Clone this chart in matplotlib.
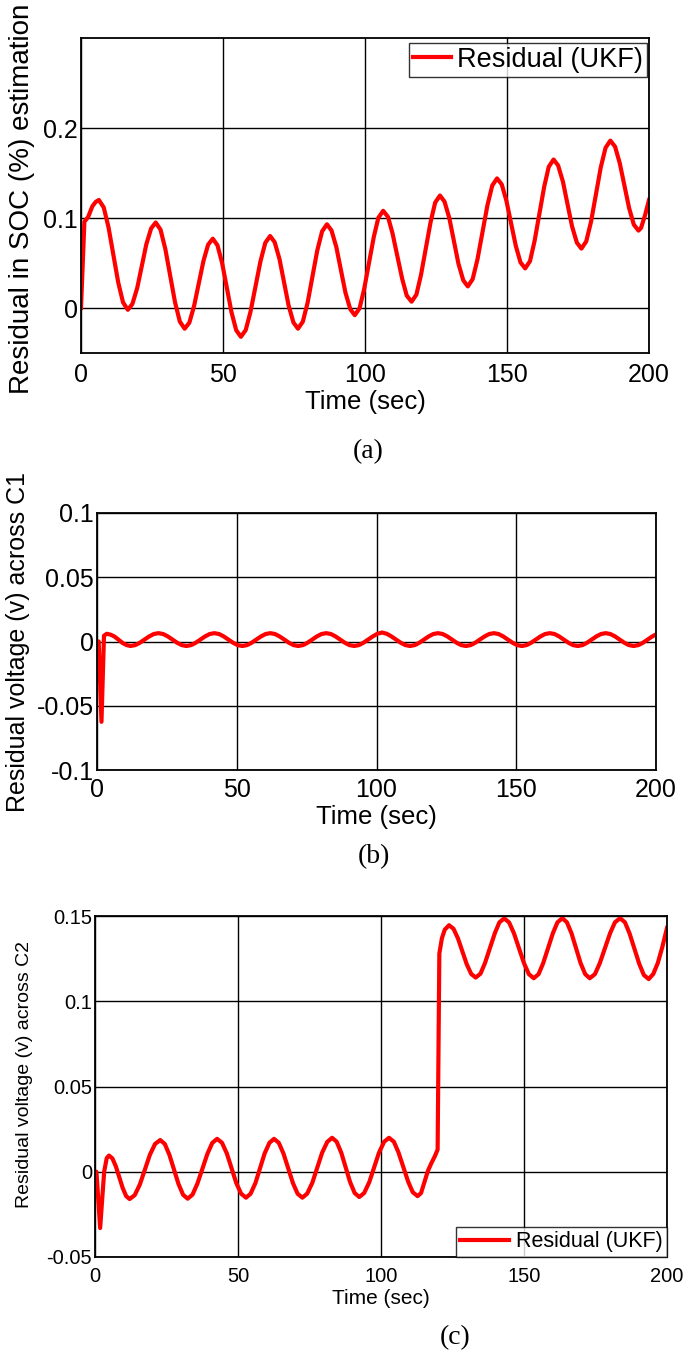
import matplotlib
matplotlib.use("Agg")
import matplotlib.pyplot as plt

plt.rcParams['font.family'] = ['Liberation Sans', 'DejaVu Sans']
plt.rcParams['axes.unicode_minus'] = False

# (a) residual in SOC estimation
t_a = [0, 1.2, 2.5, 4, 5.2, 6.3,
       8.0, 9.7, 11.4, 13.1, 14.8, 16.5,
       18.1, 19.8, 21.4, 23.0, 24.7, 26.3,
       28.0, 29.7, 31.4, 33.1, 34.8, 36.5,
       38.15, 39.8, 41.45, 43.1, 44.75, 46.4,
       48.05, 49.7, 51.35, 53.0, 54.65, 56.3,
       58.0, 59.7, 61.45, 63.2, 64.9, 66.6,
       68.2, 69.9, 71.5, 73.1, 74.8, 76.4,
       78.1, 79.8, 81.5, 83.2, 84.9, 86.6,
       88.2, 89.9, 91.5, 93.1, 94.8, 96.4,
       98.1, 99.7, 101.4, 103.1, 104.7, 106.4,
       108.1, 109.7, 111.4, 113.1, 114.7, 116.4,
       118.1, 119.7, 121.4, 123.1, 124.7, 126.4,
       128.0, 129.7, 131.3, 132.9, 134.6, 136.2,
       137.9, 139.6, 141.35, 143.1, 144.8, 146.5,
       148.15, 149.8, 151.45, 153.1, 154.75, 156.4,
       158.1, 159.7, 161.4, 163.1, 164.7, 166.4,
       168.0, 169.7, 171.3, 172.9, 174.6, 176.2,
       177.9, 179.6, 181.3, 183.0, 184.7, 186.4,
       188.05, 189.7, 191.35, 193.0, 194.65, 196.3,
       197.2, 198.6, 200]
soc_a = [0, 0.096, 0.101, 0.113, 0.118, 0.120,
         0.1118, 0.0895, 0.059, 0.0285, 0.0062, -0.002,
         0.0045, 0.0223, 0.0465, 0.0708, 0.0885, 0.095,
         0.0871, 0.0655, 0.036, 0.0065, -0.0151, -0.023,
         -0.0163, 0.002, 0.027, 0.052, 0.0703, 0.077,
         0.0697, 0.0498, 0.0225, -0.0048, -0.0247, -0.032,
         -0.0245, -0.004, 0.024, 0.052, 0.0725, 0.080,
         0.0731, 0.0543, 0.0285, 0.0028, -0.0161, -0.023,
         -0.0152, 0.006, 0.035, 0.064, 0.0852, 0.093,
         0.0862, 0.0678, 0.0425, 0.0173, -0.0012, -0.008,
         -0.0002, 0.021, 0.050, 0.079, 0.1002, 0.108,
         0.1012, 0.0828, 0.0575, 0.0323, 0.0138, 0.007,
         0.0149, 0.0365, 0.066, 0.0955, 0.1171, 0.125,
         0.1182, 0.0998, 0.0745, 0.0493, 0.0308, 0.024,
         0.032, 0.054, 0.084, 0.114, 0.136, 0.144,
         0.1373, 0.119, 0.094, 0.069, 0.0507, 0.044,
         0.0521, 0.0743, 0.1045, 0.1348, 0.1569, 0.165,
         0.1584, 0.1403, 0.1155, 0.0908, 0.0726, 0.066,
         0.074, 0.096, 0.126, 0.156, 0.178, 0.186,
         0.1793, 0.161, 0.136, 0.111, 0.0927, 0.086,
         0.089, 0.103, 0.120]

# (b) residual voltage across C1
t_b = [0, 0.6, 1.6, 2.5, 3.5, 4.9, 6.3, 7.75, 9.2, 10.6, 12,
       13.7, 15.3, 17, 18.7, 20.3, 22, 23.7, 25.3, 27, 28.7, 30.3, 32,
       33.7, 35.3, 37, 38.7, 40.3, 42, 43.7, 45.3, 47, 48.7, 50.3, 52,
       53.7, 55.3, 57, 58.7, 60.3, 62, 63.7, 65.3, 67, 68.7, 70.3, 72,
       73.7, 75.3, 77, 78.7, 80.3, 82, 83.7, 85.3, 87, 88.7, 90.3, 92,
       93.7, 95.3, 97, 98.7, 100.3, 102, 103.7, 105.3, 107, 108.7, 110.3, 112,
       113.7, 115.3, 117, 118.7, 120.3, 122, 123.7, 125.3, 127, 128.7, 130.3, 132,
       133.7, 135.3, 137, 138.7, 140.3, 142, 143.7, 145.3, 147, 148.7, 150.3, 152,
       153.7, 155.3, 157, 158.7, 160.3, 162, 163.7, 165.3, 167, 168.7, 170.3, 172,
       173.7, 175.3, 177, 178.7, 180.3, 182, 183.7, 185.3, 187, 188.7, 190.3, 192,
       193.7, 195.3, 197, 198.7, 200]
vc1_b = [0, 0, -0.0625, 0.0045, 0.006, 0.0053, 0.0038, 0.0013, -0.0012, -0.0028, -0.0035,
         -0.0028, -0.001, 0.0015, 0.004, 0.0058, 0.0065, 0.0058, 0.004, 0.0015, -0.001, -0.0028, -0.0035,
         -0.0028, -0.001, 0.0015, 0.004, 0.0058, 0.0065, 0.0058, 0.004, 0.0015, -0.001, -0.0028, -0.0035,
         -0.0028, -0.001, 0.0015, 0.004, 0.0058, 0.0065, 0.0058, 0.004, 0.0015, -0.001, -0.0028, -0.0035,
         -0.0028, -0.001, 0.0015, 0.004, 0.0058, 0.0065, 0.0058, 0.004, 0.0015, -0.001, -0.0028, -0.0035,
         -0.0028, -0.001, 0.0015, 0.004, 0.006, 0.007, 0.006, 0.004, 0.0015, -0.001, -0.0028, -0.0035,
         -0.0028, -0.001, 0.0015, 0.004, 0.0058, 0.0065, 0.0058, 0.004, 0.0015, -0.001, -0.0028, -0.0035,
         -0.0028, -0.001, 0.0015, 0.004, 0.0058, 0.0065, 0.0058, 0.004, 0.0015, -0.001, -0.0028, -0.0035,
         -0.0028, -0.001, 0.0015, 0.004, 0.0058, 0.0065, 0.0058, 0.004, 0.0015, -0.001, -0.0028, -0.0035,
         -0.0028, -0.001, 0.0015, 0.004, 0.0058, 0.0065, 0.0058, 0.004, 0.0015, -0.001, -0.0028, -0.0035,
         -0.0028, -0.001, 0.0015, 0.004, 0.0055]

# (c) residual voltage across C2
t_c = [0, 0.5, 1.8, 3.2, 4.1, 4.9,
       6.1, 7.3, 8.5, 9.7, 10.9, 12.1,
       13.9, 15.7, 17.45, 19.2, 21.0, 22.8,
       24.4, 26.0, 27.6, 29.2, 30.8, 32.4,
       34.1, 35.8, 37.55, 39.3, 41.0, 42.7,
       44.4, 46.1, 47.75, 49.4, 51.1, 52.8,
       54.4, 56.1, 57.7, 59.3, 61.0, 62.6,
       64.25, 65.9, 67.55, 69.2, 70.85, 72.5,
       74.2, 76.0, 77.7, 79.4, 81.2, 82.9,
       84.5, 86.1, 87.65, 89.2, 90.8, 92.4,
       94.1, 95.9, 97.6, 99.3, 101.1, 102.8,
       104.5, 106.1, 107.8, 109.5, 111.1, 112.8,
       114.0, 115.2, 116.4, 117.6, 118.8, 119.8, 120.4, 121.3, 122.3, 123.8,
       125.35, 126.9, 128.45, 130.0, 131.55, 133.1,
       134.8, 136.4, 138.1, 139.8, 141.4, 143.1,
       144.8, 146.5, 148.25, 150.0, 151.7, 153.4,
       155.1, 156.7, 158.4, 160.1, 161.7, 163.4,
       165.0, 166.6, 168.2, 169.8, 171.4, 173.0,
       174.8, 176.5, 178.3, 180.1, 181.8, 183.6,
       185.3, 186.9, 188.6, 190.3, 191.9, 193.6,
       195.2, 196.8, 198.4, 200]
vc2_c = [0, 0, -0.033, 0.0, 0.008, 0.0095,
         0.0078, 0.0031, -0.0033, -0.0096, -0.0143, -0.016,
         -0.0137, -0.0074, 0.0013, 0.010, 0.0163, 0.0186,
         0.0163, 0.010, 0.0014, -0.0072, -0.0135, -0.0158,
         -0.0134, -0.0070, 0.0018, 0.0105, 0.0169, 0.0193,
         0.0170, 0.0107, 0.0021, -0.0066, -0.0129, -0.0152,
         -0.0129, -0.0066, 0.0021, 0.0107, 0.0170, 0.0193,
         0.0170, 0.0107, 0.0021, -0.0066, -0.0129, -0.0152,
         -0.0128, -0.0064, 0.0024, 0.0111, 0.0175, 0.0199,
         0.0176, 0.0112, 0.0026, -0.0061, -0.0125, -0.0148,
         -0.0125, -0.0061, 0.0026, 0.0112, 0.0176, 0.0199,
         0.0176, 0.0114, 0.0028, -0.0058, -0.0120, -0.0143,
         -0.0125, -0.006, 0.0005, 0.005, 0.009, 0.013, 0.128, 0.137, 0.142, 0.1446,
         0.1425, 0.1369, 0.1293, 0.1216, 0.1160, 0.1139,
         0.1162, 0.1226, 0.1313, 0.1399, 0.1463, 0.1486,
         0.1462, 0.1398, 0.1311, 0.1223, 0.1159, 0.1135,
         0.1159, 0.1223, 0.1311, 0.1399, 0.1463, 0.1487,
         0.1463, 0.1399, 0.1311, 0.1223, 0.1159, 0.1135,
         0.1159, 0.1223, 0.1311, 0.1399, 0.1463, 0.1487,
         0.1463, 0.1398, 0.1309, 0.1219, 0.1154, 0.113,
         0.116, 0.1225, 0.132, 0.143]

x_ticks = [0, 50, 100, 150, 200]
W, H = 685, 1354


def make_axes(left, top, right, bottom):
    # pixel box -> figure fraction
    return fig.add_axes([left / W, 1 - bottom / H, (right - left) / W, (bottom - top) / H])


def style(ax, fs, xpad):
    ax.set_xlim(0, 200)
    ax.set_xticks(x_ticks)
    ax.grid(True, color='k', linewidth=1.0)
    ax.set_axisbelow(True)
    for s in ax.spines.values():
        s.set_linewidth(1.3)
    ax.tick_params(axis='x', length=0, pad=xpad, labelsize=fs)
    ax.tick_params(axis='y', length=0, pad=2, labelsize=fs)


fig = plt.figure(figsize=(6.85, 13.54), dpi=100)

# panel (a)
ax = make_axes(81, 38, 649, 353)
ax.plot(t_a, soc_a, color='#ff0000', linewidth=3, label='Residual (UKF)')
style(ax, 18, 7)
ax.set_ylim(-0.05, 0.3)
ax.set_yticks([0, 0.1, 0.2])
ax.set_yticklabels(['0', '0.1', '0.2'])
ax.set_xlabel('Time (sec)', fontsize=18.5, labelpad=2)
ax.set_ylabel('Residual in SOC (%) estimation', fontsize=20)
ax.yaxis.set_label_coords(-0.081, 0.49)
leg = ax.legend(loc='upper right', bbox_to_anchor=(1 - 2.3 / 568, 1 - 4.7 / 315),
                borderaxespad=0, fontsize=19.5, frameon=True, fancybox=False,
                handlelength=1.4, handletextpad=0.2, borderpad=0.15)
leg.get_frame().set_edgecolor('k')
leg.get_frame().set_linewidth(1.0)
fig.text(368 / W, 1 - 452 / H, '(a)', family='Liberation Serif', fontsize=20,
         ha='center', va='center')

# panel (b)
ax = make_axes(97, 513, 656, 770)
ax.plot(t_b, vc1_b, color='#ff0000', linewidth=3)
style(ax, 18, 6)
ax.set_ylim(-0.1, 0.1)
ax.set_yticks([-0.1, -0.05, 0, 0.05, 0.1])
ax.set_yticklabels(['-0.1', '-0.05', '0', '0.05', '0.1'])
ax.set_xlabel('Time (sec)', fontsize=18.5, labelpad=2)
ax.set_ylabel('Residual voltage (v) across C1', fontsize=18)
ax.yaxis.set_label_coords(-0.12, 0.5)
fig.text(374 / W, 1 - 857 / H, '(b)', family='Liberation Serif', fontsize=20,
         ha='center', va='center')

# panel (c)
ax = make_axes(95, 916, 667, 1257)
ax.plot(t_c, vc2_c, color='#ff0000', linewidth=3, label='Residual (UKF)')
style(ax, 14.5, 7)
ax.set_ylim(-0.05, 0.15)
ax.set_yticks([-0.05, 0, 0.05, 0.1, 0.15])
ax.set_yticklabels(['-0.05', '0', '0.05', '0.1', '0.15'])
ax.set_xlabel('Time (sec)', fontsize=15, labelpad=2)
ax.set_ylabel('Residual voltage (v) across C2', fontsize=14)
ax.yaxis.set_label_coords(-0.108, 0.534)
leg = ax.legend(loc='lower right', borderaxespad=0, fontsize=15.5, frameon=True,
                fancybox=False, handlelength=2.27, handletextpad=0.3, borderpad=0.21)
leg.get_frame().set_edgecolor('k')
leg.get_frame().set_linewidth(1.0)
fig.text(455 / W, 1 - 1338 / H, '(c)', family='Liberation Serif', fontsize=20,
         ha='center', va='center')

fig.savefig('out.png', dpi=100)
